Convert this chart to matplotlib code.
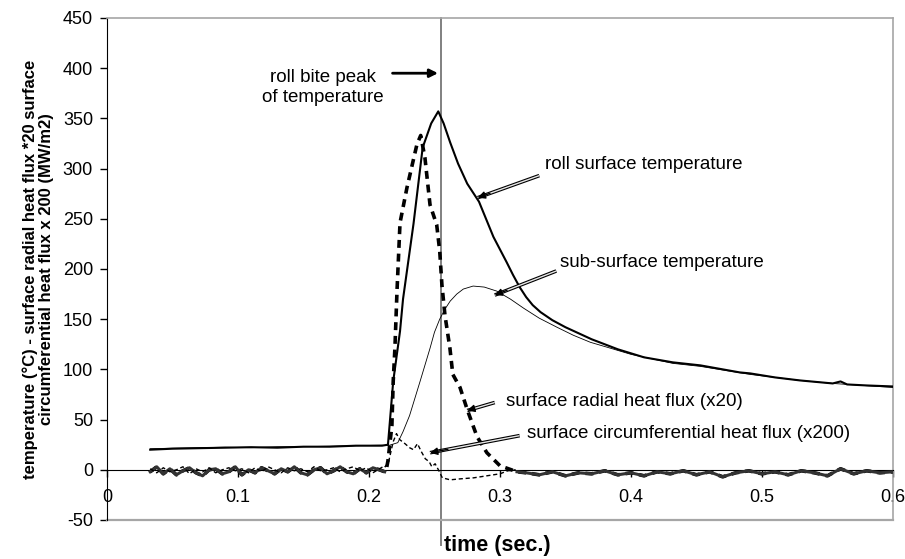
import matplotlib
matplotlib.use("Agg")
import matplotlib.pyplot as plt

plt.rcParams['font.family'] = ['Liberation Sans', 'DejaVu Sans']
plt.rcParams['axes.unicode_minus'] = False

# --- data (time in s) ---
base_t = [0.033, 0.038, 0.043, 0.048, 0.053, 0.058, 0.063, 0.068, 0.073, 0.078,
          0.083, 0.088, 0.093, 0.098, 0.103, 0.108, 0.113, 0.118, 0.123, 0.128,
          0.133, 0.138, 0.143, 0.148, 0.153, 0.158, 0.163, 0.168, 0.173, 0.178,
          0.183, 0.188, 0.193, 0.198, 0.203, 0.208, 0.212]
base_radial = [-2, 3, -4, 1, -5, -1, 2, -3, -6, 0, 1, -4, -2, 3, -5, 0, -3, 2, -1,
               -4, 1, -2, 3, -3, -5, 0, 2, -4, -1, 3, -2, -4, 1, -3, 2, 0, -2]
base_circ = [1, -3, 2, -2, 0, 3, -4, 1, -2, 2, -3, 0, 2, -1, 1, -3, 2, -2, 3,
             0, -3, 2, -1, 1, -2, 3, -1, 0, 2, -2, 1, 3, -1, 2, -3, 1, 4]

surf_t = [0.033, 0.05, 0.07, 0.09, 0.11, 0.13, 0.15, 0.17, 0.19, 0.21, 0.2145,
          0.2185, 0.2237, 0.226, 0.234, 0.241, 0.2475, 0.2529, 0.257, 0.262,
          0.268, 0.275, 0.284, 0.295, 0.305, 0.31, 0.315, 0.32, 0.325, 0.331,
          0.34, 0.35, 0.36, 0.37, 0.38, 0.39, 0.40, 0.41, 0.432, 0.453, 0.483,
          0.491, 0.51, 0.529, 0.554, 0.56, 0.565, 0.58, 0.6]
surf_T = [20, 21, 21.5, 22, 22.5, 22, 23, 23, 24, 24, 25,
          88, 138, 170, 245, 321, 345, 357, 345, 326,
          305, 285, 267, 232, 207, 194, 182, 172, 164, 157,
          149, 142, 136, 130, 125, 120, 116, 112, 107, 104, 97,
          96, 92, 89, 86, 88, 85, 84, 83]

sub_t = [0.033, 0.05, 0.07, 0.09, 0.11, 0.13, 0.15, 0.17, 0.19, 0.21, 0.2145,
         0.222, 0.226, 0.231, 0.239, 0.2466, 0.250, 0.254, 0.258, 0.262,
         0.267, 0.272, 0.2795, 0.288, 0.2975, 0.308, 0.318, 0.33, 0.3435,
         0.356, 0.369, 0.382, 0.40, 0.432, 0.453, 0.491, 0.529, 0.554, 0.6]
sub_T = [21, 21.5, 22, 22.5, 22, 23, 23, 23.5, 24, 24.5, 24,
         27, 38, 54, 88, 121, 137, 150, 160, 168,
         175, 180, 183, 182, 178, 170, 161, 151, 142,
         134, 127, 122, 115, 106, 103, 95, 89, 86, 82]

rad_t = [0.2135, 0.2145, 0.2175, 0.2185, 0.2198, 0.221, 0.2215, 0.2237, 0.229,
         0.2366, 0.2395, 0.2427, 0.2466, 0.2517, 0.254, 0.2557, 0.258, 0.2618,
         0.264, 0.2695, 0.275, 0.2825, 0.29, 0.30, 0.313]
rad_q = [2, 9, 44, 88, 121, 164, 181, 246, 281,
         324, 333, 311, 264, 244, 218, 184, 154, 121,
         95, 82, 60, 33, 17, 4, -2]

tail_t = [0.313, 0.32, 0.33, 0.34, 0.35, 0.36, 0.37, 0.38, 0.39, 0.40, 0.41,
          0.42, 0.43, 0.44, 0.45, 0.46, 0.47, 0.48, 0.49, 0.50, 0.51, 0.52,
          0.53, 0.54, 0.55, 0.56, 0.57, 0.58, 0.59, 0.6]
tail_q = [-2, -3, -5, -2, -6, -3, -4, -1, -5, -3, -6,
          -2, -4, -1, -5, -2, -7, -3, -1, -4, -2, -5,
          -1, -3, -6, 1, -4, -1, -3, -2]

circ_t = [0.2125, 0.215, 0.2185, 0.221, 0.2235, 0.2275, 0.231, 0.234, 0.237,
          0.240, 0.243, 0.246, 0.248, 0.2505, 0.253, 0.256, 0.262, 0.27, 0.28,
          0.29, 0.30, 0.306, 0.312]
circ_q = [3, 8, 28, 36, 30, 26, 22, 20, 26,
          18, 11, 8, 3, 6, 0, -8, -10, -9, -8,
          -6, -4, -1, 0]

peak_time = 0.255

x_ticks = [0, 0.1, 0.2, 0.3, 0.4, 0.5, 0.6]
x_labels = ['0', '0.1', '0.2', '0.3', '0.4', '0.5', '0.6']
y_ticks = [-50, 0, 50, 100, 150, 200, 250, 300, 350, 400, 450]

fig = plt.figure(figsize=(9.05, 5.59), dpi=100)
ax = fig.add_axes([0.1182, 0.0698, 0.8685, 0.898])

# curves
ax.plot(base_t + rad_t + tail_t, base_radial + rad_q + tail_q, color='black',
        lw=2.6, dashes=(2.2, 1.6), solid_capstyle='butt', zorder=3)
ax.plot(base_t, base_radial, color='#333333', lw=2.2, zorder=3)
ax.plot(tail_t, tail_q, color='#333333', lw=2.2, zorder=3)
ax.plot(base_t + circ_t, base_circ + circ_q, color='black', lw=1.0,
        dashes=(3, 2), zorder=3)
ax.plot(sub_t, sub_T, color='black', lw=0.6, zorder=4)
ax.plot(surf_t, surf_T, color='black', lw=1.5, zorder=4)

# vertical marker through the peak
ax.plot([peak_time, peak_time], [450, -75], color='#808080', lw=1.4,
        clip_on=False, zorder=2)

ax.set_xlim(0, 0.6)
ax.set_ylim(-50, 450)
ax.set_xticks(x_ticks)
ax.set_xticklabels(x_labels)
ax.set_yticks(y_ticks)

ax.spines['bottom'].set_position(('data', 0))
ax.spines['bottom'].set_color('black')
ax.spines['left'].set_color('black')
for s in ['top', 'right']:
    ax.spines[s].set_color('#a6a6a6')
    ax.spines[s].set_linewidth(1.2)
ax.axhline(-50, color='#a6a6a6', lw=1.6, clip_on=False)
ax.tick_params(direction='out', length=5, width=1, labelsize=13)
ax.tick_params(axis='x', pad=9)
ax.tick_params(axis='y', pad=5)

ax.set_ylabel("temperature (°C) - surface radial heat flux *20 surface\n"
              "circumferential heat flux x 200 (MW/m2)",
              fontsize=12, fontweight='bold', linespacing=1.1)
ax.yaxis.set_label_coords(-0.067, 0.5)

ax.text(peak_time + 0.002, -75, "time (sec.)", fontsize=15.5,
        fontweight='bold', ha='left', va='center')

# annotations
fs = 13.5
ax.text(0.165, 381, "roll bite peak\nof temperature", fontsize=fs,
        ha='center', va='center', linespacing=1.25)
ax.annotate('', xy=(0.2527, 395), xytext=(0.218, 395),
            arrowprops=dict(arrowstyle='-|>', color='black', lw=2,
                            mutation_scale=12, shrinkA=0, shrinkB=0))

labels = [
    ("roll surface temperature", (0.334, 304), (0.330, 293), (0.283, 271)),
    ("sub-surface temperature", (0.346, 206), (0.343, 198), (0.296, 174)),
    ("surface radial heat flux (x20)", (0.3046, 68), (0.296, 67), (0.275, 59)),
    ("surface circumferential heat flux (x200)", (0.321, 36), (0.315, 34), (0.2466, 17)),
]
for txt, pos, start, tip in labels:
    ax.text(pos[0], pos[1], txt, fontsize=fs, ha='left', va='center')
    # double-line shaft with a small solid head
    ax.plot([start[0], tip[0]], [start[1], tip[1]], color='black', lw=2.6,
            solid_capstyle='butt', zorder=5)
    ax.plot([start[0], tip[0]], [start[1], tip[1]], color='#e6e6e6', lw=1.0,
            solid_capstyle='butt', zorder=5)
    mid = (start[0] + 0.8 * (tip[0] - start[0]), start[1] + 0.8 * (tip[1] - start[1]))
    ax.annotate('', xy=tip, xytext=mid, zorder=6,
                arrowprops=dict(arrowstyle='-|>', color='black', lw=1.0,
                                mutation_scale=11, shrinkA=0, shrinkB=0))

fig.savefig("out.png", dpi=100)
